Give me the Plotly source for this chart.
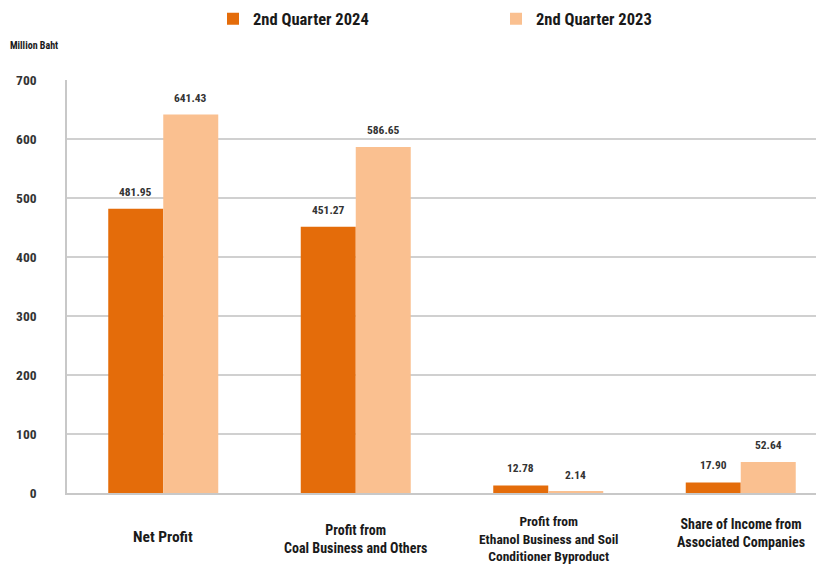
import plotly.graph_objects as go

categories = ["Net Profit", "Profit from<br>Coal Business and Others",
              "Profit from<br>Ethanol Business and Soil<br>Conditioner Byproduct",
              "Share of Income from<br>Associated Companies"]
q2_2024 = [481.95, 451.27, 12.78, 17.90]
q2_2023 = [641.43, 586.65, 2.14, 52.64]
y_ticks = [0, 100, 200, 300, 400, 500, 600, 700]

C24 = "#E46C0A"
C23 = "#FAC090"
FONT = "Liberation Sans Narrow, Arial Narrow, Roboto Condensed, sans-serif"

# page offset (browser body margin) compensation
W, H = 832, 565
L, T, B = 59, 72, 80
PW, PH = W - L, H - T - B


def px_to_paper_x(px_page):
    return (px_page - 8 - L) / PW


def px_to_paper_y(py_page):
    return (H - B - (py_page - 8)) / PH


xpos = list(range(len(categories)))

fig = go.Figure()
fig.add_trace(go.Bar(x=xpos, y=q2_2024, name="2nd Quarter 2024", marker_color=C24,
                     marker_line_width=0, legend="legend"))
fig.add_trace(go.Bar(x=xpos, y=q2_2023, name="2nd Quarter 2023", marker_color=C23,
                     marker_line_width=0, legend="legend2"))

lab_font = dict(size=11.5, color="#333333", family=FONT, weight="bold")
annotations = []
for i in xpos:
    annotations.append(dict(x=i, y=q2_2024[i], xref="x", yref="y", xshift=-27.5, yshift=17,
                            text=f"{q2_2024[i]:.2f}", showarrow=False, font=lab_font))
    annotations.append(dict(x=i, y=q2_2023[i], xref="x", yref="y", xshift=27.5, yshift=17,
                            text=f"{q2_2023[i]:.2f}", showarrow=False, font=lab_font))

label_shift = [-44, -46, -45, -40]
label_size = [15.5, 14, 13.5, 14]
for i, c in enumerate(categories):
    annotations.append(dict(x=i, y=0, xref="x", yref="paper", yshift=label_shift[i],
                            yanchor="middle", text=c, showarrow=False,
                            font=dict(size=label_size[i], color="#1a1a1a", family=FONT,
                                      weight="bold")))

annotations.append(dict(x=px_to_paper_x(8), y=px_to_paper_y(45), xref="paper", yref="paper",
                        text="Million Baht", showarrow=False, xanchor="left", yanchor="middle",
                        font=dict(size=10, color="#1a1a1a", family=FONT, weight="bold")))

leg_common = dict(orientation="h", yanchor="middle", xanchor="left",
                  font=dict(size=16.5, family=FONT, weight="bold", color="#1a1a1a"),
                  bgcolor="rgba(0,0,0,0)", itemwidth=30)

fig.update_layout(
    width=W, height=H,
    margin=dict(l=L, r=0, t=T, b=B, autoexpand=False),
    paper_bgcolor="white", plot_bgcolor="white",
    barmode="group", bargap=0.4286, bargroupgap=0,
    font=dict(family=FONT, color="#1a1a1a"),
    legend=dict(leg_common, x=px_to_paper_x(213), y=px_to_paper_y(19)),
    legend2=dict(leg_common, x=px_to_paper_x(496), y=px_to_paper_y(19)),
    annotations=annotations,
    showlegend=True,
)
fig.update_xaxes(range=[-0.5, -0.5 + PW / 192.5], showticklabels=False, showgrid=False,
                 showline=True, linecolor="#c8c8c8", linewidth=2, zeroline=False)
fig.update_yaxes(range=[0, 700], tickvals=y_ticks, showgrid=True, gridcolor="#d0d0d0",
                 gridwidth=1.5, showline=True, linecolor="#c8c8c8", linewidth=1.5,
                 zeroline=False, ticks="", ticklabelstandoff=26,
                 tickfont=dict(size=13.5, family=FONT, weight="bold", color="#333333"))

fig.write_html("out.html")
